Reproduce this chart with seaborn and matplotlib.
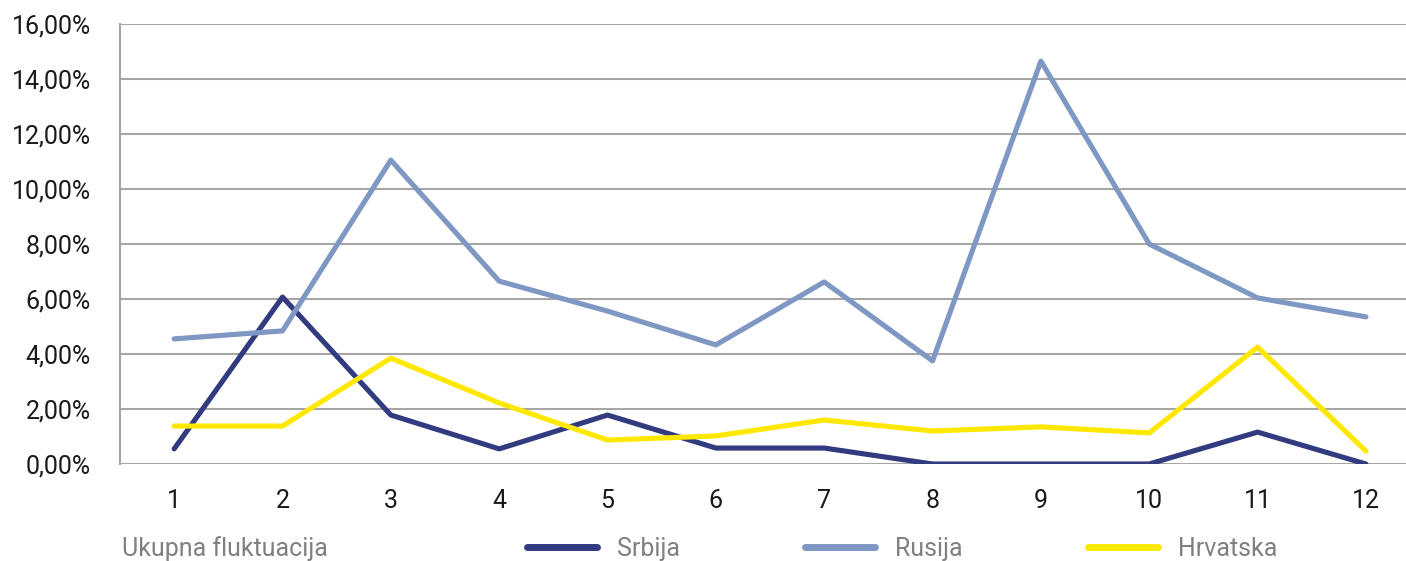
import matplotlib
matplotlib.use("Agg")
import matplotlib.pyplot as plt
from matplotlib.ticker import FuncFormatter
import pandas as pd
import seaborn as sns

# Months 1..12 and fluctuation rates (%) per country
months = [1, 2, 3, 4, 5, 6, 7, 8, 9, 10, 11, 12]
srbija = [0.55, 6.07, 1.78, 0.55, 1.78, 0.58, 0.58, 0.0, 0.0, 0.0, 1.16, 0.0]
rusija = [4.55, 4.84, 11.05, 6.65, 5.56, 4.33, 6.62, 3.75, 14.65, 8.00, 6.04, 5.35]
hrvatska = [1.38, 1.38, 3.85, 2.22, 0.87, 1.02, 1.60, 1.20, 1.35, 1.13, 4.25, 0.47]
series_names = ["Srbija", "Rusija", "Hrvatska"]
colors = ["#323a80", "#7f97c3", "#ffe800"]
title_text = "Ukupna fluktuacija"

df = pd.DataFrame({"mjesec": months * 3,
                   "vrijednost": srbija + rusija + hrvatska,
                   "zemlja": [n for n in series_names for _ in months]})

sns.set_style("white")
plt.rcParams["font.family"] = ["Roboto", "DejaVu Sans"]

fig = plt.figure(figsize=(14.06, 5.61), dpi=100)
ax = fig.add_axes([120 / 1406, 1 - 464 / 561, 1 - 120 / 1406, 440 / 561])

sns.lineplot(data=df, x="mjesec", y="vrijednost", hue="zemlja",
             palette=dict(zip(series_names, colors)), linewidth=3.7,
             ax=ax, legend=False)

ax.set_ylim(0, 16)
ax.set_xlim(0.5, 12.37)
ax.set_yticks(range(0, 17, 2))
ax.set_xticks(months)
ax.yaxis.set_major_formatter(FuncFormatter(lambda v, p: f"{v:.2f}".replace(".", ",") + "%"))
ax.grid(axis="y", color="#a6a6a6", linewidth=1.5)
ax.grid(axis="x", visible=False)
ax.set_axisbelow(True)
for s in ["top", "right", "bottom"]:
    ax.spines[s].set_visible(False)
ax.spines["left"].set_color("#a6a6a6")
ax.spines["left"].set_linewidth(1.5)
ax.tick_params(axis="both", length=0, labelsize=18, colors="#1a1a1a")
ax.tick_params(axis="y", pad=21)
ax.tick_params(axis="x", pad=18)
ax.set_xlabel("")
ax.set_ylabel("")

fig.text(122 / 1406, 1 - 549 / 561, title_text, fontsize=18, color="#808080",
         ha="left", va="center")

handles = [plt.Line2D([], [], color=c, linewidth=5, solid_capstyle="round") for c in colors]
fig.legend(handles, series_names, ncol=3, loc="center",
           bbox_to_anchor=(902 / 1406, 1 - 549 / 561), frameon=False,
           fontsize=18, labelcolor="#808080", handlelength=2.8,
           handletextpad=0.8, columnspacing=5.0, borderpad=0, borderaxespad=0)

fig.savefig("out.png", dpi=100)
